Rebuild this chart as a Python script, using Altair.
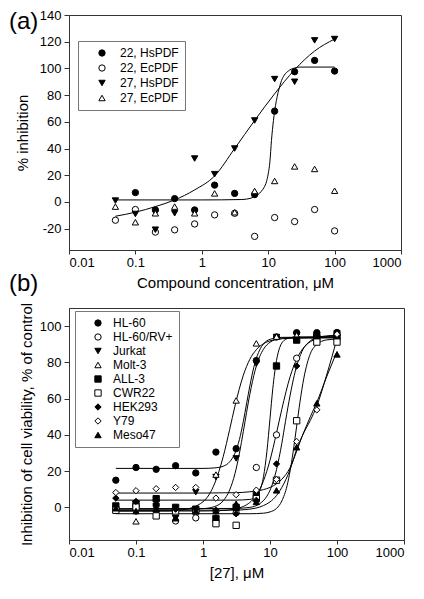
import altair as alt
import pandas as pd

# ---------------- Panel (a) data ----------------
conc = [0.05, 0.1, 0.2, 0.39, 0.78, 1.56, 3.125, 6.25, 12.5, 25, 50, 100]
series_a = ["22, HsPDF", "22, EcPDF", "27, HsPDF", "27, EcPDF"]
shapes_a = ["circle", "circle", "triangle-down", "triangle-up"]
fills_a = ["black", "white", "black", "white"]
hs22 = [None, 7, -6, 2.5, -6, 12.6, 6.4, 5.5, 68, 97.5, 106, 98]
ec22 = [-13.7, -5.7, -22.6, -20.9, -16.5, -9.7, -8.5, -25.8, -11.7, -14.7, -5.7, -21.7]
hs27 = [1, -9, -20.8, -8.5, 32.5, 20.8, 40, 61, 92, 90, 121, 122]
ec27 = [-3.5, -15.2, -8.5, -3.5, -8.5, 6.4, -7.7, 8.2, 15.7, 26.6, 24.7, 8.4]

# fitted curves
fit22_x = [0.05, 1, 4, 5.5, 6.25, 7, 7.9, 8.7, 9.4, 10, 10.6, 11.2, 12, 12.5, 13.3, 14.1, 15, 15.9, 17.5, 20, 25, 30, 100]
fit22_y = [1.5, 1.5, 1.8, 2.8, 4.2, 5.5, 8, 11, 15, 21, 30, 46, 61, 68, 76, 82, 87, 91, 95, 98, 100.3, 101, 101]
fit27_x = [0.05, 0.1, 0.2, 0.39, 0.78, 1.56, 3.125, 6.25, 12.5, 25, 50, 100]
fit27_y = [-10.7, -7.7, -3.5, 1.5, 9, 19.5, 40, 61, 81, 99, 113, 122]

# ---------------- Panel (b) data ----------------
series_b = ["HL-60", "HL-60/RV+", "Jurkat", "Molt-3", "ALL-3", "CWR22", "HEK293", "Y79", "Meso47"]
shapes_b = ["circle", "circle", "triangle-down", "triangle-up", "square", "square", "diamond", "diamond", "triangle-up"]
fills_b = ["black", "white", "black", "white", "black", "white", "black", "white", "black"]
hl60 = [15, 22, 21, 23, 19, 30.5, 32.4, 81, 94, 96.4, 96.4, 96.5]
hl60rv = [0, 0.5, 1, -7.5, -5.8, -2, -3, 22, 40, 82.3, 94, 95.5]
jurkat = [-2, -2.5, 0, -6, 8.4, 16.7, 27, 79.3, 94, 95, 95, 96]
molt3 = [0, -7.7, -1, -3, -2, 18.1, 59, 90.5, 94.2, 95, 95, 95]
all3 = [0.8, 2, 4.8, 0, -1, -6.2, 0, 6.6, 78, 92.3, 94, 94]
cwr22 = [-1.6, 0.2, -4.7, -2, -2, -9, -9.9, 4.8, 15, 47.8, 91.2, 91.2]
hek293 = [5.1, 3.3, 2, -1, -1, -1.6, -3.5, 3.9, 24, 78, 95, 95]
y79 = [8.2, 9.2, 10.3, 11, 11, 5.1, 7, 9.5, 15.4, 36.3, 53.8, 95.5]
meso47 = [-0.5, -2, -1, -6, -2, -2, 2, 3, 9.4, 33.2, 57.4, 84.4]

fit_hl60_x = [0.05, 1, 1.5, 2, 2.5, 3, 3.5, 4, 4.5, 5, 6, 7, 8, 10, 15, 100]
fit_hl60_y = [21.5, 21.5, 21.8, 22.7, 25.1, 29.9, 37.5, 47.4, 57.8, 67, 80.1, 86.8, 90.2, 92.7, 93.8, 94]
fit_molt3_x = [0.05, 0.3, 0.5, 1, 1.5, 2, 2.5, 3, 4, 5, 6.25, 8, 12, 20, 100]
fit_molt3_y = [-2, -1.9, -1.3, 3.1, 13.4, 27.9, 43, 55.9, 72.9, 81.7, 87, 90.3, 92.5, 93.3, 93.5]
fit_jurkat_x = [0.05, 0.5, 1, 1.5, 2, 2.5, 3, 3.5, 4, 5, 6, 7, 8, 10, 15, 100]
fit_jurkat_y = [-1, -1, -0.7, 0.5, 3.6, 9.6, 18.6, 29.9, 41.9, 62.4, 75.6, 83.1, 87.3, 91.1, 93.4, 94]
fit_all3_x = [0.05, 3, 5, 6.25, 7, 8, 9, 10, 11, 12.5, 14, 16, 20, 25, 100]
fit_all3_y = [4, 4, 4.4, 6.1, 8.9, 17, 31, 49, 65.4, 81, 88.3, 91.9, 93.6, 94, 94]
fit_hek_x = [0.05, 3, 5, 7, 9, 10, 12.5, 15, 17, 20, 25, 30, 40, 50, 70, 100]
fit_hek_y = [-0.7, -0.6, 0, 2, 6.2, 9.4, 20.8, 35.2, 47.3, 62, 78, 86, 91.9, 93.7, 94.6, 95]
fit_hl60rv_x = [0.05, 1, 2, 3, 4, 5, 6.25, 8, 10, 12.5, 15, 20, 25, 30, 40, 50, 70, 100]
fit_hl60rv_y = [-2, -2, -1.7, -0.9, 0.5, 2.7, 6.7, 14.7, 26, 41, 54.1, 72.2, 81.8, 86.9, 91.4, 93.1, 94.3, 94.7]
fit_cwr_x = [0.05, 5, 8, 10, 12.5, 15, 18, 20, 22, 25, 28, 32, 36, 40, 50, 70, 100]
fit_cwr_y = [-3.5, -3.5, -3.2, -2.5, -0.6, 3.5, 12, 20.3, 29.9, 44.8, 58.1, 71.3, 79.6, 84.8, 89.9, 92.4, 92.8]
fit_y79_x = [0.05, 1, 3, 5, 8, 10, 12.5, 15, 20, 25, 30, 40, 50, 70, 100]
fit_y79_y = [7.9, 7.9, 8.1, 8.6, 9.8, 11, 13, 15.5, 22, 31, 39, 48, 56, 73, 93]
fit_meso_x = [0.05, 3, 6, 8, 10, 12.5, 15, 20, 25, 30, 40, 50, 70, 100]
fit_meso_y = [-1.6, -1.5, -0.5, 1, 3, 6.5, 11, 21, 32, 39, 50, 58, 72, 86]

x_ticks = [0.01, 0.1, 1, 10, 100, 1000]
ya_ticks = [-20, 0, 20, 40, 60, 80, 100, 120, 140]
yb_ticks = [0, 20, 40, 60, 80, 100]
shape_sizes = {"circle": 40, "triangle-up": 42, "triangle-down": 42, "square": 34, "diamond": 62}


def long_points(names, columns):
    rows = []
    for name, vals in zip(names, columns):
        for c, v in zip(conc, vals):
            if v is not None:
                rows.append({"series": name, "conc": c, "val": v})
    return pd.DataFrame(rows)


def long_curves(names, xs, ys):
    rows = []
    for name, xx, yy in zip(names, xs, ys):
        for i, (c, v) in enumerate(zip(xx, yy)):
            rows.append({"series": name, "conc": c, "val": v, "i": i})
    return pd.DataFrame(rows)


pts_a = long_points(series_a, [hs22, ec22, hs27, ec27])
crv_a = long_curves(["22", "27"], [fit22_x, fit27_x], [fit22_y, fit27_y])
pts_b = long_points(series_b, [hl60, hl60rv, jurkat, molt3, all3, cwr22, hek293, y79, meso47])
crv_b = long_curves(
    series_b,
    [fit_hl60_x, fit_hl60rv_x, fit_jurkat_x, fit_molt3_x, fit_all3_x, fit_cwr_x, fit_hek_x, fit_y79_x, fit_meso_x],
    [fit_hl60_y, fit_hl60rv_y, fit_jurkat_y, fit_molt3_y, fit_all3_y, fit_cwr_y, fit_hek_y, fit_y79_y, fit_meso_y],
)

FONT = "Liberation Sans"
lbl_expr = "'' + datum.value"


def xenc(title):
    return alt.X(
        "conc:Q",
        scale=alt.Scale(type="log", domain=[0.01, 1000], nice=False),
        axis=alt.Axis(values=x_ticks, labelExpr=lbl_expr, title=title, tickSize=4,
                      labelPadding=2, titlePadding=6),
    )


def yenc(title, dom, ticks, tpad):
    return alt.Y(
        "val:Q",
        scale=alt.Scale(domain=dom, nice=False, zero=False),
        axis=alt.Axis(values=ticks, labelExpr=lbl_expr, title=title, tickSize=5,
                      labelPadding=3, titlePadding=tpad),
    )


def legend(lx, ly, soff, loff, rowpad):
    return alt.Legend(
        title=None, orient="none", legendX=lx, legendY=ly, direction="vertical",
        strokeColor="#777", fillColor="white", padding=6,
        labelFont=FONT, labelFontSize=12, labelColor="black",
        symbolStrokeColor="black", symbolStrokeWidth=1,
        symbolOffset=soff, labelOffset=loff, rowPadding=rowpad,
    )


def panel(pts, crv, names, shapes, fills, xt, yt, ydom, yticks, tpad, lx, ly, soff, loff, rowpad):
    X = xenc(xt)
    Y = yenc(yt, ydom, yticks, tpad)
    lg = legend(lx, ly, soff, loff, rowpad)
    sizes = [shape_sizes[s] for s in shapes]
    lines = alt.Chart(crv).mark_line(color="black", strokeWidth=1, interpolate="monotone").encode(
        x=X, y=Y, detail="series:N", order="i:Q"
    )
    points = alt.Chart(pts).mark_point(filled=True, strokeWidth=1, opacity=1).encode(
        x=X, y=Y,
        shape=alt.Shape("series:N", scale=alt.Scale(domain=names, range=shapes), legend=lg),
        fill=alt.Fill("series:N", scale=alt.Scale(domain=names, range=fills), legend=lg),
        stroke=alt.Stroke("series:N", scale=alt.Scale(domain=names, range=["black"] * len(names)), legend=lg),
        size=alt.Size("series:N", scale=alt.Scale(domain=names, range=sizes), legend=lg),
    )
    return lines, points


la, pa = panel(pts_a, crv_a, series_a, shapes_a, fills_a, "Compound concentration, μM", "% inhibition",
               [-36, 140], ya_ticks, 9, 9, 26, 12, 12, 3)
lb, pb = panel(pts_b, crv_b, series_b, shapes_b, fills_b, "[27], μM",
               "Inhibition of cell viability, % of control", [-18, 110], yb_ticks, 5, 6, 3, 11, 9, 2)

panel_labels = pd.DataFrame({"t": ["(a)", "(b)"], "k": [0, 1]})
lab_a = alt.Chart(panel_labels).transform_filter("datum.k == 0").mark_text(
    align="left", baseline="top", fontSize=24, font=FONT, color="black"
).encode(text="t:N", x=alt.value(-60), y=alt.value(-5))
lab_b = alt.Chart(panel_labels).transform_filter("datum.k == 1").mark_text(
    align="left", baseline="top", fontSize=24, font=FONT, color="black"
).encode(text="t:N", x=alt.value(-60), y=alt.value(257))

chart_a = alt.layer(la, pa, lab_a, lab_b).properties(width=332, height=235)
chart_b = alt.layer(lb, pb).properties(width=335, height=232)

chart = alt.vconcat(chart_a, chart_b, spacing=4).resolve_scale(
    shape="independent", fill="independent", stroke="independent", size="independent", y="independent"
).resolve_legend(
    shape="independent", fill="independent", stroke="independent", size="independent"
).properties(
    padding={"left": 0, "top": 0, "right": 5, "bottom": 5}
).configure(font=FONT).configure_view(
    stroke="#333", strokeWidth=1
).configure_axis(
    grid=False, labelFont=FONT, titleFont=FONT, labelFontSize=13, titleFontSize=15,
    titleFontWeight="normal", labelColor="black", titleColor="black",
    domainColor="#333", tickColor="#333",
)

chart.save("out.html", embed_options={"renderer": "svg", "actions": False})
